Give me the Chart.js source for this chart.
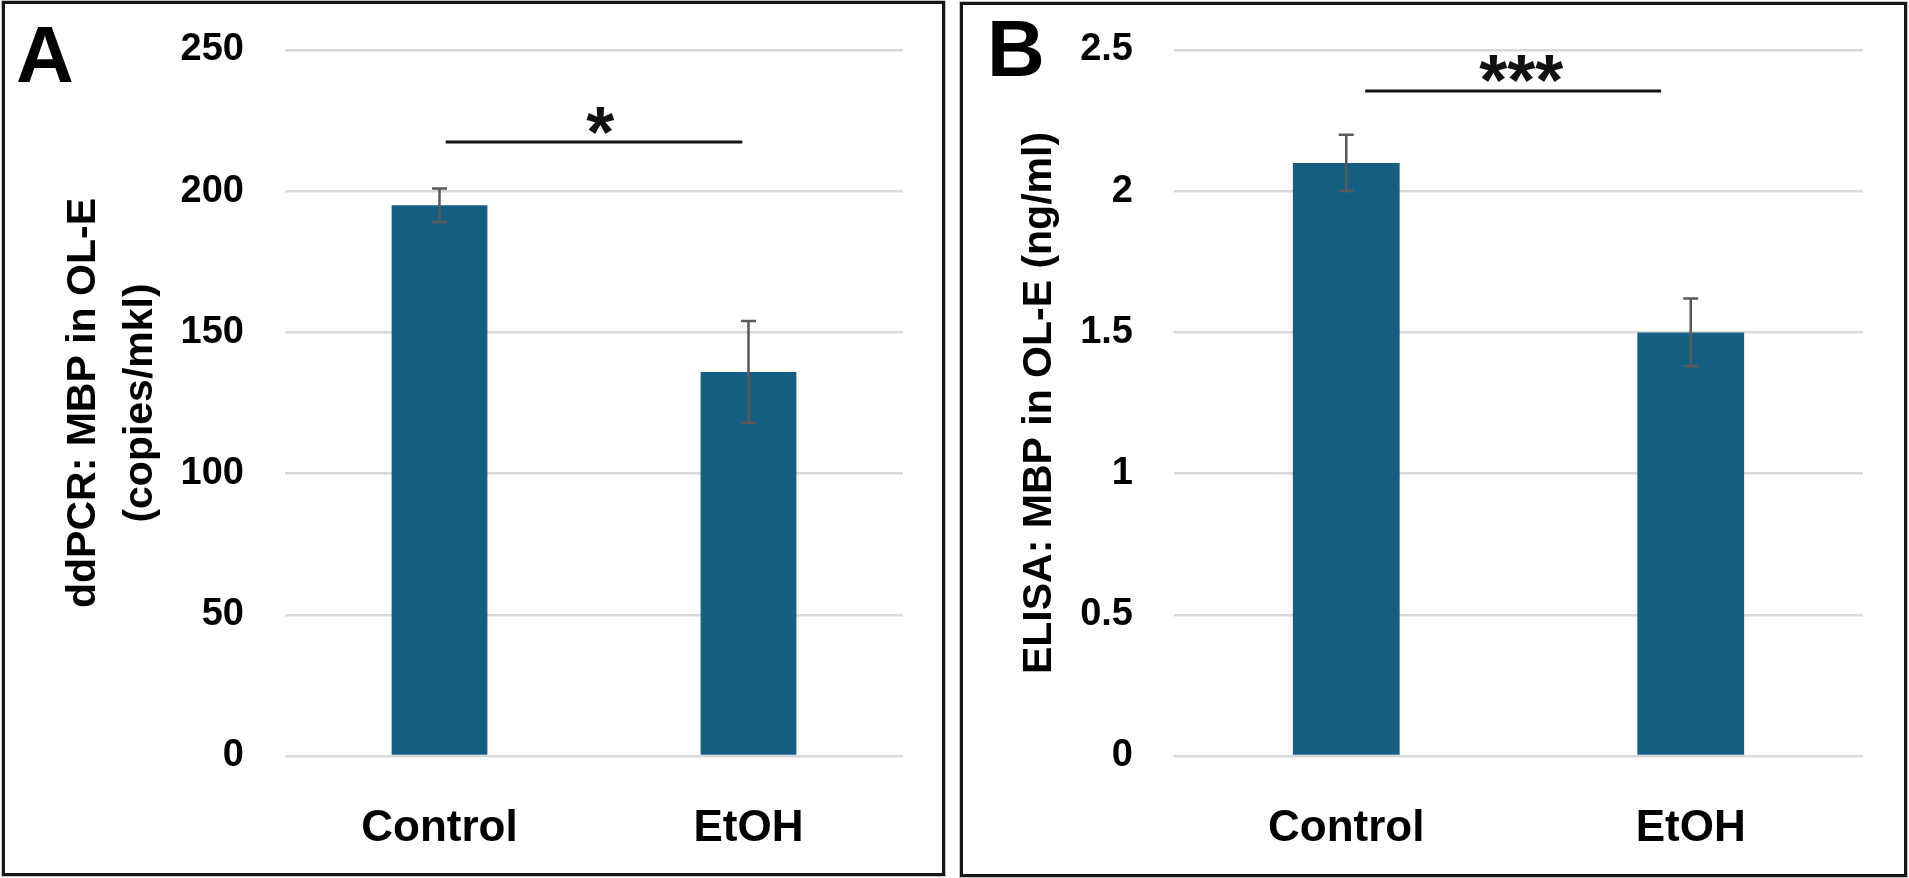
<!DOCTYPE html>
<html>
<head>
<meta charset="utf-8">
<title>MBP in OL-E: ddPCR and ELISA</title>
<script src="https://cdn.jsdelivr.net/npm/chart.js@4.4.1/dist/chart.umd.min.js"></script>
<style>
  html, body { margin: 0; padding: 0; background: #fff; }
  body { width: 1909px; height: 878px; position: relative; overflow: hidden; }
  .panel { position: absolute; box-sizing: border-box; border: 3px solid #161616; box-shadow: 0 0 0 1px #c4c4c4; }
  #panelA { left: 2px; top: 1px; width: 943px; height: 875px; }
  #panelB { left: 960px; top: 2px; width: 947px; height: 875px; }
  canvas { display: block; }
</style>
</head>
<body>
<div class="panel" id="panelA"><canvas id="chartA" width="937" height="869"></canvas></div>
<div class="panel" id="panelB"><canvas id="chartB" width="941" height="869"></canvas></div>

<script>
// data
const categories = ["Control", "EtOH"];

const ddpcrMeans = [195, 136];
const ddpcrErrors = [6, 18];
const ddpcrTicks = [0, 50, 100, 150, 200, 250];
const ddpcrTickLabels = ["0", "50", "100", "150", "200", "250"];

const elisaMeans = [2.1, 1.5];
const elisaErrors = [0.1, 0.12];
const elisaTicks = [0, 0.5, 1, 1.5, 2, 2.5];
const elisaTickLabels = ["0", "0.5", "1", "1.5", "2", "2.5"];

const FONT = "'Liberation Sans', Arial, sans-serif";
const BAR_COLOR = "#156082";

// error bars, significance bracket and panel letter
const annotate = {
  id: "annotate",
  afterDatasetsDraw(chart, args, opts) {
    const ctx = chart.ctx;
    const xs = chart.scales.x;
    const ys = chart.scales.y;
    const values = chart.data.datasets[0].data;
    const meta = chart.getDatasetMeta(0);

    ctx.save();
    ctx.strokeStyle = "#595959";
    ctx.lineWidth = 2.5;
    meta.data.forEach((bar, i) => {
      const top = ys.getPixelForValue(values[i] + opts.errors[i]);
      const bot = ys.getPixelForValue(values[i] - opts.errors[i]);
      ctx.beginPath();
      ctx.moveTo(bar.x, top);
      ctx.lineTo(bar.x, bot);
      ctx.moveTo(bar.x - 7.5, top);
      ctx.lineTo(bar.x + 7.5, top);
      ctx.moveTo(bar.x - 7.5, bot);
      ctx.lineTo(bar.x + 7.5, bot);
      ctx.stroke();
    });

    // significance line + stars
    const s = opts.sig;
    const ly = ys.getPixelForValue(s.y);
    ctx.strokeStyle = "#111";
    ctx.lineWidth = 3;
    ctx.beginPath();
    ctx.moveTo(xs.getPixelForValue(s.from), ly);
    ctx.lineTo(xs.getPixelForValue(s.to), ly);
    ctx.stroke();

    ctx.fillStyle = "#111";
    ctx.font = "bold 72px " + FONT;
    ctx.textAlign = "center";
    ctx.textBaseline = "alphabetic";
    const m = ctx.measureText(s.label);
    const cy = ys.getPixelForValue(s.labelY);
    ctx.fillText(s.label, xs.getPixelForValue(s.labelX),
      cy + (m.actualBoundingBoxAscent - m.actualBoundingBoxDescent) / 2);

    // panel letter
    ctx.fillStyle = "#000";
    ctx.font = "bold 80px " + FONT;
    ctx.textAlign = "left";
    ctx.fillText(opts.letter, opts.letterX, opts.letterY);
    ctx.restore();
  }
};

function makePanel(id, cfg) {
  return new Chart(document.getElementById(id), {
    type: "bar",
    data: {
      labels: categories,
      datasets: [{
        data: cfg.values,
        backgroundColor: BAR_COLOR,
        borderWidth: 0,
        barPercentage: 0.31,
        categoryPercentage: 1
      }]
    },
    options: {
      responsive: false,
      animation: false,
      layout: { padding: cfg.padding },
      plugins: {
        legend: { display: false },
        tooltip: { enabled: false },
        annotate: cfg.annotate
      },
      scales: {
        x: {
          grid: { display: false },
          border: { display: false },
          ticks: {
            color: "#000",
            padding: 38,
            font: { family: FONT, size: 44, weight: "bold" }
          },
          afterFit: s => { s.height = cfg.xHeight; s.paddingLeft = 0; s.paddingRight = 0; }
        },
        y: {
          min: cfg.ticks[0],
          max: cfg.ticks[cfg.ticks.length - 1],
          afterBuildTicks: s => { s.ticks = cfg.ticks.map(v => ({ value: v })); },
          afterFit: s => { s.width = cfg.yWidth; s.paddingTop = 0; s.paddingBottom = 0; },
          grid: { color: "#d9d9d9", lineWidth: 2.5, drawTicks: false },
          border: { display: false },
          ticks: {
            color: "#000",
            padding: 41,
            font: { family: FONT, size: 38, weight: "bold" },
            callback: v => cfg.tickLabels[cfg.ticks.indexOf(v)]
          },
          title: {
            display: true,
            text: cfg.title,
            color: "#000",
            padding: { top: cfg.titlePad, bottom: 0 },
            font: { family: FONT, size: 41, weight: "bold", lineHeight: cfg.titleLine }
          }
        }
      }
    },
    plugins: [annotate]
  });
}

makePanel("chartA", {
  values: ddpcrMeans,
  ticks: ddpcrTicks,
  tickLabels: ddpcrTickLabels,
  title: ["ddPCR: MBP in OL-E", "(copies/mkl)"],
  titlePad: 50,
  titleLine: 1.4,
  padding: { top: 46, right: 39, bottom: 0, left: 0 },
  yWidth: 280,
  xHeight: 117,
  annotate: {
    errors: ddpcrErrors,
    sig: { from: 0.02, to: 0.98, y: 217.4, label: "*", labelX: 0.52, labelY: 225 },
    letter: "A", letterX: 11, letterY: 78
  }
});

makePanel("chartB", {
  values: elisaMeans,
  ticks: elisaTicks,
  tickLabels: elisaTickLabels,
  title: "ELISA: MBP in OL-E (ng/ml)",
  titlePad: 52,
  titleLine: 1.2,
  padding: { top: 45, right: 41, bottom: 0, left: 0 },
  yWidth: 211,
  xHeight: 118,
  annotate: {
    errors: elisaErrors,
    sig: { from: 0.055, to: 0.914, y: 2.355, label: "***", labelX: 0.508, labelY: 2.435 },
    letter: "B", letterX: 24, letterY: 71
  }
});
</script>
</body>
</html>
